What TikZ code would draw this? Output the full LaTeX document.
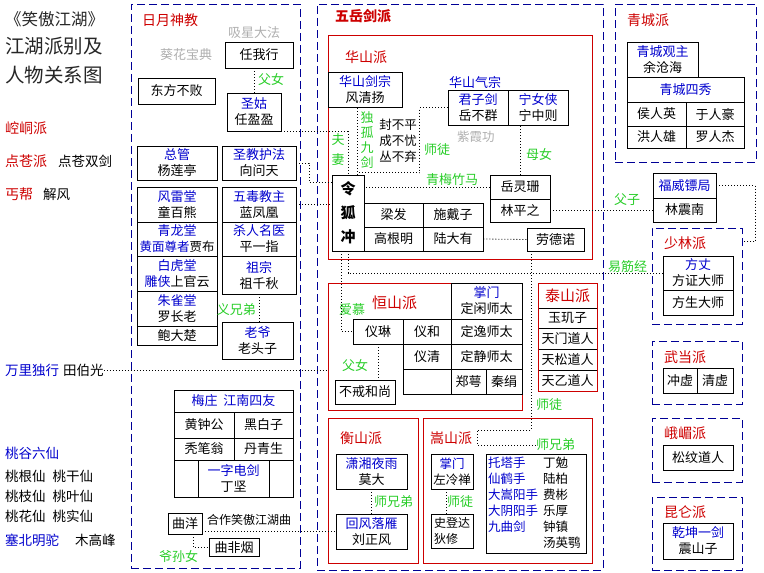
\documentclass[tikz,border=0pt]{standalone}
\usepackage{fontspec}
\setmainfont{Noto Sans CJK SC}
\usetikzlibrary{calc}
\definecolor{gangBlue}{RGB}{0,0,150}
\definecolor{roleBlue}{RGB}{0,0,205}
\definecolor{sectRed}{RGB}{205,0,0}
\definecolor{kinGreen}{RGB}{40,205,40}
\definecolor{artGray}{RGB}{175,175,175}
\newcommand{\rolename}[1]{\textcolor{roleBlue}{#1}}
\tikzset{
  gangframe/.style={draw=gangBlue, line width=1pt, dash pattern=on 8pt off 4pt, inner sep=0pt},
  sectframe/.style={draw=sectRed, line width=0.9pt, inner sep=0pt},
  pbox/.style={draw=black, line width=0.9pt, inner sep=0pt, align=center,
    font=\fontsize{13}{16}\selectfont},
  sectname/.style={text=sectRed, inner sep=0pt, anchor=west, font=\fontsize{14}{16}\selectfont},
  kin/.style={text=kinGreen, inner sep=0pt, font=\fontsize{13}{15}\selectfont},
  art/.style={text=artGray, inner sep=0pt, anchor=west, font=\fontsize{13}{15}\selectfont},
  plain/.style={inner sep=0pt, anchor=west, font=\fontsize{13.5}{15}\selectfont},
  headline/.style={inner sep=0pt, align=left, text=black!85, font=\fontsize{19.5}{28.5}\selectfont},
  dotrel/.style={draw=black, line width=0.8pt, dash pattern=on 1pt off 2pt},
}
\begin{document}
\begin{tikzpicture}[x=1pt, y=-1pt]
\useasboundingbox (0,0) rectangle (764,573);

% TITLE AND LOOSE NAMES
\node[headline, anchor=north west] (title) at (5,11)
  {{\fontsize{16.5}{28.5}\selectfont 《笑傲江湖》}\\江湖派别及\\人物关系图};
\node[sectname] (kongtong) at (5,128) {崆峒派};
\node[sectname] (diancang) at (5,161) {点苍派};
\node[plain] (diancangsj) at (58,161) {点苍双剑};
\node[sectname] (gaibang) at (5,194) {丐帮};
\node[plain] (xiefeng) at (43,194) {解风};
\node[plain, text=roleBlue] (wanli) at (5,370) {万里独行};
\node[plain] (tianbg) at (63,370) {田伯光};
\node[plain, text=roleBlue] (taogu) at (5,453) {桃谷六仙};
\node[plain] (taoxianA) at (5,476) {桃根仙\hspace{7pt}桃干仙};
\node[plain] (taoxianB) at (5,496) {桃枝仙\hspace{7pt}桃叶仙};
\node[plain] (taoxianC) at (5,516) {桃花仙\hspace{7pt}桃实仙};
\node[plain, text=roleBlue] (saibei) at (5,540) {塞北明驼};
\node[plain] (mugaofeng) at (75,540) {木高峰};

%% RIYUE SHENJIAO
\node[gangframe, minimum width=169pt, minimum height=564pt] (riyue) at (215.5,286) {};
\node[sectname] (riyueName) at (142,20) {日月神教};
\node[art] (xixing) at (228,33) {吸星大法};
\node[art] (kuihua) at (160,55) {葵花宝典};
\node[pbox, minimum width=68pt, minimum height=26pt] (renwoxing) at (259,55) {任我行};
\node[pbox, minimum width=77pt, minimum height=26pt] (dongfang) at (176.5,91) {东方不败};
\node[kin, anchor=west] (funuA) at (258,80) {父女};
\node[pbox, minimum width=54pt, minimum height=38pt] (shenggu) at (254,112) {\rolename{圣姑}\\任盈盈};
\node[pbox, minimum width=80pt, minimum height=34pt] (zongguan) at (177,163) {\rolename{总管}\\杨莲亭};
\node[pbox, minimum width=74pt, minimum height=34pt] (hufa) at (259,163) {\rolename{圣教护法}\\向问天};
\node[pbox, minimum width=80pt, minimum height=35pt] (fenglei) at (177,204.5) {\rolename{风雷堂}\\童百熊};
\node[pbox, minimum width=80pt, minimum height=34pt] (qinglong) at (177,239)
  {\rolename{青龙堂}\\{\fontsize{12.5}{16}\selectfont\rolename{黄面尊者}贾布}};
\node[pbox, minimum width=80pt, minimum height=35pt] (baihu) at (177,273.5) {\rolename{白虎堂}\\\rolename{雕侠}上官云};
\node[pbox, minimum width=80pt, minimum height=35pt] (zhuque) at (177,308.5) {\rolename{朱雀堂}\\罗长老};
\node[pbox, minimum width=80pt, minimum height=19pt] (baodachu) at (177,335.5) {鲍大楚};
\node[pbox, minimum width=74pt, minimum height=35pt] (wudu) at (259,204.5) {\rolename{五毒教主}\\蓝凤凰};
\node[pbox, minimum width=74pt, minimum height=34pt] (shaqi) at (259,239) {\rolename{杀人名医}\\平一指};
\node[pbox, minimum width=74pt, minimum height=38pt] (zuzong) at (259,275) {\rolename{祖宗}\\祖千秋};
\node[kin, anchor=east] (yixiongdi) at (256,310) {义兄弟};
\node[pbox, minimum width=71pt, minimum height=37pt] (laoye) at (257.5,340.5) {\rolename{老爷}\\老头子};

% meizhuang
\node[pbox, minimum width=119pt, minimum height=22pt, text=roleBlue] (meizhuang) at (233.5,401) {梅庄\hspace{6pt}江南四友};
\node[pbox, minimum width=60pt, minimum height=26pt] (huangzg) at (204,425) {黄钟公};
\node[pbox, minimum width=59pt, minimum height=26pt] (heibaizi) at (263.5,425) {黑白子};
\node[pbox, minimum width=60pt, minimum height=22pt] (tubiweng) at (204,449) {秃笔翁};
\node[pbox, minimum width=59pt, minimum height=22pt] (danqing) at (263.5,449) {丹青生};
\node[pbox, minimum width=119pt, minimum height=37pt] (meiRow) at (233.5,478.5) {};
\node[pbox, minimum width=71pt, minimum height=37pt] (dingjian) at (233.5,478.5) {\rolename{一字电剑}\\丁坚};
\node[pbox, minimum width=34pt, minimum height=21pt] (quyang) at (185,523.5) {曲洋};
\node[plain, font=\fontsize{12}{14}\selectfont] (hezuo) at (207,520) {合作笑傲江湖曲};
\node[pbox, minimum width=50pt, minimum height=18pt] (qufeiyan) at (234,547.5) {曲非烟};
\node[kin, anchor=west] (yesunnu) at (159,556) {爷孙女};

%% WUYUE JIANPAI
\node[gangframe, minimum width=286pt, minimum height=566pt] (wuyue) at (460,287) {};
\node[sectname, font=\bfseries\fontsize{14}{16}\selectfont] (wuyueName) at (335,16) {五岳剑派};

% huashan
\node[sectframe, minimum width=264pt, minimum height=224pt] (huashan) at (460,147) {};
\node[sectname] (huashanName) at (345,57) {华山派};
\node[pbox, minimum width=74pt, minimum height=35pt] (jianzong) at (365,89.5) {\rolename{华山剑宗}\\风清扬};
\node[plain, text=roleBlue, font=\fontsize{13}{15}\selectfont] (qizong) at (449,82) {华山气宗};
\node[pbox, minimum width=60pt, minimum height=35pt] (junzijian) at (478,107.5) {\rolename{君子剑}\\岳不群};
\node[pbox, minimum width=60pt, minimum height=35pt] (ningnx) at (538,107.5) {\rolename{宁女侠}\\宁中则};
\node[art, font=\fontsize{12.5}{14}\selectfont] (zixia) at (457,137) {紫霞功};
\node[kin, anchor=west] (munu) at (526,154) {母女};
\node[kin, align=center, font=\fontsize{13}{20}\selectfont] (fuqi) at (338,150) {夫\\妻};
\node[kin, align=center, font=\fontsize{13}{15}\selectfont] (dugu) at (367,140) {独\\孤\\九\\剑};
\node[plain, anchor=center, align=left, font=\fontsize{12.5}{16}\selectfont] (jianzongsan) at (398,141) {封不平\\成不忧\\丛不弃};
\node[kin, anchor=west] (shituA) at (424,150) {师徒};
\node[kin, anchor=west] (qingmei) at (426,180) {青梅竹马};
\node[pbox, minimum width=32pt, minimum height=76pt, font=\bfseries\fontsize{15}{24}\selectfont] (linghu) at (348,213) {令\\狐\\冲};
\node[pbox, minimum width=59pt, minimum height=24pt] (liangfa) at (393.5,215) {梁发};
\node[pbox, minimum width=60pt, minimum height=24pt] (shidaizi) at (453,215) {施戴子};
\node[pbox, minimum width=59pt, minimum height=24pt] (gaogenming) at (393.5,239) {高根明};
\node[pbox, minimum width=60pt, minimum height=24pt] (ludayou) at (453,239) {陆大有};
\node[pbox, minimum width=60pt, minimum height=24pt] (yuelingshan) at (520,187) {岳灵珊};
\node[pbox, minimum width=60pt, minimum height=23pt] (linpingzhi) at (520,210.5) {林平之};
\node[pbox, minimum width=57pt, minimum height=23pt] (laodenuo) at (555.5,239.5) {劳德诺};

% hengshan (north)
\node[sectframe, minimum width=194pt, minimum height=127pt] (hengshanN) at (425,346.5) {};
\node[sectname, font=\fontsize{15}{17}\selectfont] (hengshanNName) at (372,303) {恒山派};
\node[pbox, minimum width=71pt, minimum height=36pt] (dingxian) at (486.5,301) {\rolename{掌门}\\定闲师太};
\node[pbox, minimum width=50pt, minimum height=25pt] (yilin) at (378,331.5) {仪琳};
\node[pbox, minimum width=48pt, minimum height=25pt] (yihe) at (427,331.5) {仪和};
\node[pbox, minimum width=71pt, minimum height=25pt] (dingyi) at (486.5,331.5) {定逸师太};
\node[pbox, minimum width=48pt, minimum height=25pt] (yiqing) at (427,356.5) {仪清};
\node[pbox, minimum width=71pt, minimum height=25pt] (dingjing) at (486.5,356.5) {定静师太};
\node[pbox, minimum width=48pt, minimum height=25pt] (hengEmpty) at (427,381.5) {};
\node[pbox, minimum width=35pt, minimum height=25pt] (zhenge) at (468.5,381.5) {郑萼};
\node[pbox, minimum width=36pt, minimum height=25pt] (qinjuan) at (504,381.5) {秦绢};
\node[kin, anchor=west] (aimu) at (339,310) {爱慕};
\node[kin, anchor=west] (funuB) at (342,366) {父女};
\node[pbox, minimum width=60pt, minimum height=24pt] (bujie) at (365,392) {不戒和尚};

% taishan
\node[pbox, minimum width=59pt, minimum height=25pt, text=sectRed, font=\fontsize{15}{17}\selectfont] (taishanName) at (567.5,295.5) {泰山派};
\node[pbox, minimum width=59pt, minimum height=20pt] (yujizi) at (567.5,318) {玉玑子};
\node[pbox, minimum width=59pt, minimum height=21pt] (tianmen) at (567.5,338.5) {天门道人};
\node[pbox, minimum width=59pt, minimum height=21pt] (tiansong) at (567.5,359.5) {天松道人};
\node[pbox, minimum width=59pt, minimum height=21pt] (tianyi) at (567.5,380.5) {天乙道人};
\node[sectframe, minimum width=59pt, minimum height=108pt] (taishan) at (567.5,337) {};
\node[kin, anchor=west] (shituB) at (536,405) {师徒};

% hengshan (south)
\node[sectframe, minimum width=90pt, minimum height=145pt] (hengshanS) at (373,490.5) {};
\node[sectname] (hengshanSName) at (340,438) {衡山派};
\node[pbox, minimum width=71pt, minimum height=35pt] (moda) at (371.5,471.5) {\rolename{潇湘夜雨}\\莫大};
\node[kin, anchor=west] (xiongdiA) at (374,502) {师兄弟};
\node[pbox, minimum width=71pt, minimum height=35pt] (liuzf) at (371.5,531.5) {\rolename{回风落雁}\\刘正风};

% songshan
\node[sectframe, minimum width=169pt, minimum height=145pt] (songshan) at (507.5,490.5) {};
\node[sectname] (songshanName) at (430,438) {嵩山派};
\node[pbox, minimum width=42pt, minimum height=35pt, font=\fontsize{12.5}{16}\selectfont] (zuolengchan) at (452,471.5) {\rolename{掌门}\\左冷禅};
\node[kin, anchor=west] (shituC) at (447,502) {师徒};
\node[pbox, minimum width=42pt, minimum height=34pt, align=left, font=\fontsize{12}{16}\selectfont] (shidengda) at (452,531) {史登达\\狄修};
\node[pbox, minimum width=100pt, minimum height=99pt] (taibao) at (536,503.5) {};
\node[plain, anchor=north west, align=left, text=roleBlue, font=\fontsize{12.5}{16}\selectfont] (taibaoArt) at (488,457)
  {托塔手\\仙鹤手\\大嵩阳手\\大阴阳手\\九曲剑};
\node[plain, anchor=north west, align=left, font=\fontsize{12.5}{16}\selectfont] (taibaoName) at (543,457)
  {丁勉\\陆柏\\费彬\\乐厚\\钟镇\\汤英鹗};
\node[kin, anchor=west] (xiongdiB) at (536,445) {师兄弟};

%% RIGHT COLUMN
\node[gangframe, minimum width=141pt, minimum height=158pt] (qingcheng) at (685.5,83) {};
\node[sectname] (qingchengName) at (627,20) {青城派};
\node[pbox, minimum width=71pt, minimum height=35pt] (yucanghai) at (662.5,59.5) {\rolename{青城观主}\\余沧海};
\node[pbox, minimum width=117pt, minimum height=25pt, text=roleBlue] (sixiu) at (685.5,89.5) {青城四秀};
\node[pbox, minimum width=59pt, minimum height=24pt] (hourenying) at (656.5,114) {侯人英};
\node[pbox, minimum width=58pt, minimum height=24pt] (yurenhao) at (715,114) {于人豪};
\node[pbox, minimum width=59pt, minimum height=22pt] (hongrenxiong) at (656.5,137) {洪人雄};
\node[pbox, minimum width=58pt, minimum height=22pt] (luorenjie) at (715,137) {罗人杰};

\node[pbox, minimum width=63pt, minimum height=25pt, text=roleBlue] (fuwei) at (684.5,185.5) {福威镖局};
\node[pbox, minimum width=63pt, minimum height=24pt] (linzhennan) at (684.5,210) {林震南};
\node[kin, anchor=west] (fuzi) at (614,200) {父子};
\node[kin, anchor=west] (yijinjing) at (608,267) {易筋经};

\node[gangframe, minimum width=90pt, minimum height=96pt] (shaolin) at (697,276) {};
\node[sectname] (shaolinName) at (664,243) {少林派};
\node[pbox, minimum width=70pt, minimum height=34pt] (fangzheng) at (698,273) {\rolename{方丈}\\方证大师};
\node[pbox, minimum width=70pt, minimum height=25pt] (fangsheng) at (698,302.5) {方生大师};

\node[gangframe, minimum width=90pt, minimum height=63pt] (wudang) at (697,372.5) {};
\node[sectname] (wudangName) at (664,357) {武当派};
\node[pbox, minimum width=34pt, minimum height=25pt] (chongxu) at (680,380.5) {冲虚};
\node[pbox, minimum width=36pt, minimum height=25pt] (qingxu) at (715,380.5) {清虚};

\node[gangframe, minimum width=90pt, minimum height=64pt] (emei) at (697,450) {};
\node[sectname] (emeiName) at (664,433) {峨嵋派};
\node[pbox, minimum width=70pt, minimum height=25pt] (songwen) at (698,457.5) {松纹道人};

\node[gangframe, minimum width=90pt, minimum height=73pt] (kunlun) at (697,533.5) {};
\node[sectname] (kunlunName) at (664,512) {昆仑派};
\node[pbox, minimum width=70pt, minimum height=36pt] (zhenshanzi) at (698,541) {\rolename{乾坤一剑}\\震山子};

%% RELATIONS
\draw[dotrel] (shenggu.north) -- (shenggu.north |- renwoxing.south);
\draw[dotrel] (shenggu.south east) -| (linghu.north);
\draw[dotrel] (hufa.east) -- ++(13,0) |- ([yshift=-8pt]linghu.north west);
\draw[dotrel] (wudu.east) -- (wudu.east -| linghu.west);
\draw[dotrel] (zuzong.south) -- (zuzong.south |- laoye.north);
\draw[dotrel] (tianbg.east) -- (tianbg.east -| hengshanN.west);
\draw[dotrel] (quyang.east |- liuzf.west) -- (liuzf.west);
\draw[dotrel] ([xshift=8pt]quyang.south) |- (qufeiyan.west);
\draw[dotrel] ([xshift=9pt]linghu.north) -- ([xshift=9pt]linghu.north |- jianzong.south);
\draw[dotrel] (junzijian.west) -- ++(-28,0) |- ([xshift=9pt,yshift=2pt]linghu.north);
\draw[dotrel] (yuelingshan.west) -- (yuelingshan.west -| linghu.east);
\draw[dotrel] (yuelingshan.north) -- (yuelingshan.north |- ningnx.south);
\draw[dotrel] (ludayou.east) -- (laodenuo.west);
\draw[dotrel] (linpingzhi.east) -- (linpingzhi.east -| linzhennan.west);
\draw[dotrel] (fuwei.east) -- ++(39,0) |- ([yshift=-14pt]shaolin.north east);
\draw[dotrel] (linghu.south) |- (fangzheng.west);
\draw[dotrel] ([xshift=-7pt]linghu.south) |- (yilin.west);
\draw[dotrel] (yilin.south) -- (yilin.south |- bujie.north);
\draw[dotrel] ([xshift=-24.5pt]laodenuo.south) -- ++(0,179) -- ++(-54,0) |- (xiongdiB.west);
\draw[dotrel] (moda.south) -- (liuzf.north);
\draw[dotrel] ([xshift=-6pt]zuolengchan.south) -- ([xshift=-6pt]shidengda.north);

\end{tikzpicture}
\end{document}
